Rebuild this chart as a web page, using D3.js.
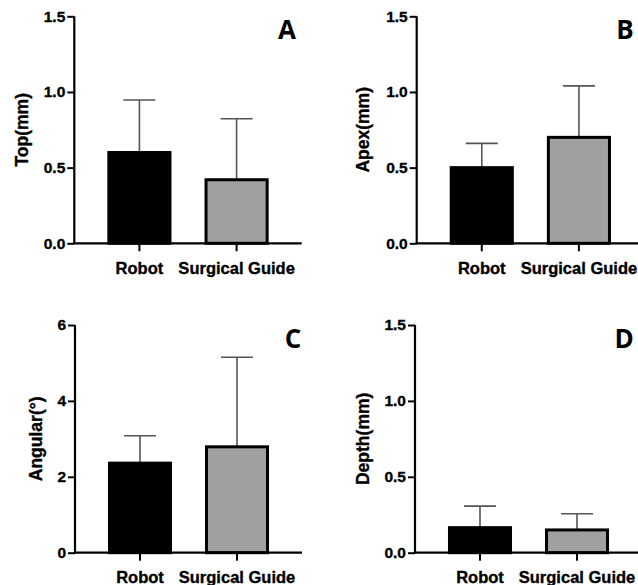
<!DOCTYPE html>
<html>
<head>
<meta charset="utf-8">
<script src="https://cdn.jsdelivr.net/npm/d3@7"></script>
<style>
  html, body { margin: 0; padding: 0; background: #fff; }
  svg { display: block; }
  .tick text { font-family: "Liberation Sans", Arial, sans-serif; font-weight: bold; font-size: 15.5px; fill: #000; stroke: #000; stroke-width: 0.35px; }
</style>
</head>
<body>
<svg id="chart" width="638" height="585"></svg>
<script>
// ---- data ----
const categories = ["Robot", "Surgical Guide"];
const topMean = [0.60, 0.42];
const topSD = [0.347, 0.403];
const apexMean = [0.50, 0.70];
const apexSD = [0.16, 0.34];
const angularMean = [2.36, 2.79];
const angularSD = [0.72, 2.36];
const depthMean = [0.165, 0.15];
const depthSD = [0.142, 0.107];
const mmTicks = [0, 0.5, 1.0, 1.5];
const degTicks = [0, 2, 4, 6];
const panelLetters = ["A", "B", "C", "D"];
const axisTitles = ["Top(mm)", "Apex(mm)", "Angular(°)", "Depth(mm)"];
const barColors = ["#000000", "#a0a0a0"];

// ---- layout ----
const panels = [
  { letter: panelLetters[0], title: axisTitles[0], mean: topMean, sd: topSD, ticks: mmTicks, fmt: d3.format(".1f"), max: 1.5,
    ax: 74.3, right: 301.7, yTop: 16.3, yBot: 243.3, titleOff: 52, letterX: 287, letterY: 39 },
  { letter: panelLetters[1], title: axisTitles[1], mean: apexMean, sd: apexSD, ticks: mmTicks, fmt: d3.format(".1f"), max: 1.5,
    ax: 416.7, right: 644, yTop: 16.3, yBot: 243.3, titleOff: 54, letterX: 625, letterY: 39 },
  { letter: panelLetters[2], title: axisTitles[2], mean: angularMean, sd: angularSD, ticks: degTicks, fmt: d3.format("d"), max: 6,
    ax: 75, right: 302, yTop: 325, yBot: 552.7, titleOff: 39, letterX: 293, letterY: 348 },
  { letter: panelLetters[3], title: axisTitles[3], mean: depthMean, sd: depthSD, ticks: mmTicks, fmt: d3.format(".1f"), max: 1.5,
    ax: 415, right: 642, yTop: 325, yBot: 552.7, titleOff: 52.5, letterX: 624, letterY: 348 }
];

const svg = d3.select("#chart");

panels.forEach(p => {
  const g = svg.append("g");
  const x = d3.scaleBand().domain(categories).range([p.ax, p.right]).paddingInner(0.34).paddingOuter(0.34);
  const y = d3.scaleLinear().domain([0, p.max]).range([p.yBot, p.yTop]);
  const rows = categories.map((c, i) => ({ c, m: p.mean[i], s: p.sd[i], color: barColors[i] }));

  // error bars (upper only), drawn beneath bars
  const eb = g.append("g").attr("stroke", "#555").attr("stroke-width", 1.6).attr("fill", "none");
  rows.forEach(r => {
    const cx = x(r.c) + x.bandwidth() / 2;
    eb.append("line").attr("x1", cx).attr("x2", cx).attr("y1", y(r.m)).attr("y2", y(r.m + r.s));
    eb.append("line").attr("x1", cx - 16).attr("x2", cx + 16).attr("y1", y(r.m + r.s)).attr("y2", y(r.m + r.s));
  });

  // bars
  g.selectAll("rect.bar").data(rows).join("rect")
    .attr("class", "bar")
    .attr("x", d => x(d.c) + 1.5)
    .attr("width", x.bandwidth() - 3)
    .attr("y", d => y(d.m))
    .attr("height", d => y(0) - y(d.m))
    .attr("fill", d => d.color)
    .attr("stroke", "#000")
    .attr("stroke-width", 3);

  // y axis
  const yAxis = g.append("g").attr("transform", `translate(${p.ax},0)`)
    .call(d3.axisLeft(y).tickValues(p.ticks).tickFormat(p.fmt).tickSize(7).tickPadding(2));
  yAxis.select(".domain").attr("d", `M0,${p.yTop}V${p.yBot}`).attr("stroke", "#000").attr("stroke-width", 2.2);
  yAxis.selectAll(".tick line").attr("stroke", "#000").attr("stroke-width", 2);

  // x axis
  const xAxis = g.append("g").attr("transform", `translate(0,${p.yBot})`)
    .call(d3.axisBottom(x).tickSize(8).tickPadding(11));
  xAxis.select(".domain").attr("d", `M${p.ax - 1},0H${p.right}`).attr("stroke", "#000").attr("stroke-width", 2.2);
  xAxis.selectAll(".tick line").attr("stroke", "#000").attr("stroke-width", 2);
  xAxis.selectAll(".tick text").style("font-size", "16.5px");

  // axis title
  g.append("text")
    .attr("transform", `translate(${p.ax - p.titleOff},${(p.yTop + p.yBot) / 2}) rotate(-90)`)
    .attr("text-anchor", "middle")
    .attr("dominant-baseline", "central")
    .style("font-family", "'Liberation Sans', Arial, sans-serif")
    .style("font-weight", "bold")
    .style("font-size", "17.5px")
    .style("stroke", "#000")
    .style("stroke-width", "0.35px")
    .text(p.title);

  // panel letter
  g.append("text")
    .attr("x", p.letterX).attr("y", p.letterY)
    .attr("text-anchor", "middle")
    .style("font-family", "'Open Sans', sans-serif")
    .style("font-weight", "bold")
    .style("font-size", "26px")
    .text(p.letter);
});
</script>
</body>
</html>
